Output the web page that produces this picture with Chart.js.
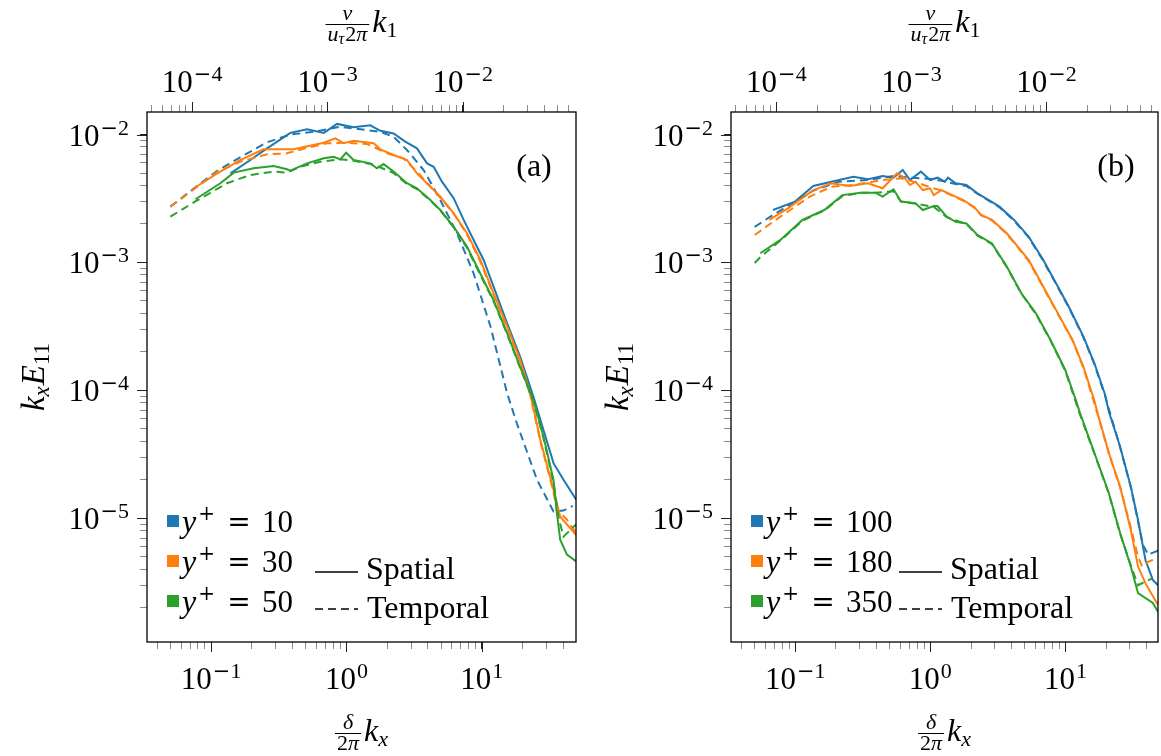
<!DOCTYPE html>
<html>
<head>
<meta charset="utf-8">
<script src="https://cdn.jsdelivr.net/npm/chart.js@4.4.1/dist/chart.umd.min.js"></script>
<style>
  html, body { margin: 0; padding: 0; background: #fff; }
  #wrap { position: relative; width: 1161px; height: 756px; overflow: hidden; }
  canvas { position: absolute; top: 0; }
  #ca { left: 0; }
  #cb { left: 590px; }
</style>
</head>
<body>
<div id="wrap">
  <canvas id="ca" width="580" height="756"></canvas>
  <canvas id="cb" width="571" height="756"></canvas>
</div>
<script>
const SERIF = '"Liberation Serif", "DejaVu Serif", serif';
const SYM = '"DejaVu Serif", serif';
const colors = ["#1f77b4", "#ff7f0e", "#2ca02c"];

// ---- panel (a): y+ = 10, 30, 50 ----
const labelsA = ["10", "30", "50"];
const spatial10 = [
  [0.139, 4.97e-3], [0.195, 6.32e-3], [0.259, 7.8e-3], [0.385, 1.03e-2], [0.512, 1.10e-2],
  [0.68, 1.03e-2], [0.853, 1.21e-2], [1.13, 1.14e-2], [1.5, 1.18e-2], [1.78, 1.07e-2],
  [2.23, 1.02e-2], [2.72, 8.8e-3], [3.32, 7.8e-3], [3.94, 5.95e-3], [4.41, 5.6e-3],
  [5.08, 4.28e-3], [6.2, 3.18e-3], [7.35, 2.15e-3], [8.71, 1.5e-3], [10.3, 1.05e-3],
  [12.2, 6.5e-4], [15.4, 3.35e-4], [19.2, 1.84e-4], [24.1, 8.9e-5], [27.1, 5.9e-5],
  [33.9, 2.7e-5], [40.2, 2.0e-5], [49.9, 1.4e-5],
];
const temporal10 = [
  [0.05, 2.73e-3], [0.0766, 3.87e-3], [0.111, 5.21e-3], [0.164, 6.64e-3], [0.259, 8.69e-3],
  [0.385, 1.0e-2], [0.573, 1.05e-2], [0.9, 1.15e-2], [1.27, 1.10e-2], [1.78, 1.05e-2],
  [2.23, 9.6e-3], [2.8, 7.57e-3], [3.72, 5.28e-3], [4.94, 3.08e-3], [6.56, 1.69e-3],
  [8.71, 8.2e-4], [11.6, 3.16e-4], [15.4, 9.5e-5], [18.2, 5.5e-5], [25.6, 2.0e-5],
  [33.9, 1.13e-5], [40, 1.15e-5], [47, 1.25e-5],
];
const spatial30 = [
  [0.0766, 3.87e-3], [0.111, 4.97e-3], [0.164, 6.32e-3], [0.244, 7.66e-3], [0.407, 7.66e-3],
  [0.68, 8.63e-3], [0.83, 9.34e-3], [0.953, 8.54e-3], [1.13, 8.95e-3], [1.59, 8.54e-3],
  [1.78, 7.66e-3], [2.23, 6.92e-3], [2.8, 6.32e-3], [3.32, 4.97e-3], [4.17, 3.91e-3],
  [4.94, 3.27e-3], [6.2, 2.42e-3], [7.78, 1.69e-3], [9.75, 1.05e-3], [12.2, 5.75e-4],
  [15.4, 3.16e-4], [19.2, 1.73e-4], [22.8, 9.5e-5], [27.1, 4.1e-5], [33.9, 1.67e-5],
  [38, 1.03e-5], [49.9, 7.4e-6],
];
const temporal30 = [
  [0.05, 2.73e-3], [0.0766, 3.8e-3], [0.111, 5.1e-3], [0.164, 6.13e-3], [0.259, 7.0e-3],
  [0.364, 7.13e-3], [0.512, 7.88e-3], [0.72, 8.54e-3], [1.0, 8.63e-3], [1.42, 8.43e-3],
  [2.0, 7.13e-3], [2.64, 6.52e-3], [3.32, 5.13e-3], [4.41, 3.68e-3], [6.2, 2.42e-3],
  [7.78, 1.65e-3], [9.75, 1.02e-3], [12.2, 5.6e-4], [15.4, 3.1e-4], [19.2, 1.7e-4],
  [22.8, 9.2e-5], [27.1, 4.0e-5], [33.9, 1.6e-5], [35.9, 1.16e-5], [42.6, 9.8e-6],
  [49.9, 7.6e-6],
];
const spatial50 = [
  [0.0766, 3.12e-3], [0.0934, 3.57e-3], [0.117, 4.16e-3], [0.147, 5.04e-3], [0.206, 5.45e-3],
  [0.29, 5.68e-3], [0.364, 5.35e-3], [0.385, 5.21e-3], [0.512, 5.95e-3], [0.68, 6.52e-3],
  [0.805, 6.71e-3], [0.9, 6.4e-3], [0.994, 7.2e-3], [1.13, 6.32e-3], [1.5, 5.95e-3],
  [1.68, 5.45e-3], [1.88, 5.88e-3], [2.23, 5.13e-3], [2.8, 4.16e-3], [3.32, 3.8e-3],
  [4.17, 3.08e-3], [4.94, 2.57e-3], [6.2, 1.9e-3], [7.78, 1.33e-3], [9.75, 8.2e-4],
  [12.2, 5.1e-4], [15.4, 2.8e-4], [19.2, 1.53e-4], [24.1, 8.4e-5], [28.6, 4.35e-5],
  [33.9, 2.0e-5], [35.9, 1.1e-5], [38, 6.8e-6], [42.6, 5.2e-6], [49.9, 4.6e-6],
];
const temporal50 = [
  [0.05, 2.28e-3], [0.0766, 3.0e-3], [0.131, 4.16e-3], [0.195, 4.83e-3], [0.29, 5.13e-3],
  [0.364, 5.04e-3], [0.457, 5.6e-3], [0.641, 6.13e-3], [0.9, 6.4e-3], [1.13, 6.24e-3],
  [1.6, 5.8e-3], [2.23, 5.0e-3], [2.8, 4.1e-3], [3.32, 3.75e-3], [4.17, 3.05e-3],
  [4.94, 2.55e-3], [6.2, 1.88e-3], [7.78, 1.3e-3], [9.75, 8.0e-4], [12.2, 5.0e-4],
  [15.4, 2.75e-4], [19.2, 1.5e-4], [24.1, 8.2e-5], [28.6, 4.2e-5], [33.9, 1.9e-5],
  [37, 1.0e-5], [40.2, 7.2e-6], [49.9, 9.0e-6],
];

// ---- panel (b): y+ = 100, 180, 350 ----
const labelsB = ["100", "180", "350"];
const spatial100 = [
  [0.0684, 2.57e-3], [0.0995, 2.99e-3], [0.136, 3.96e-3], [0.185, 4.28e-3], [0.269, 4.68e-3],
  [0.346, 4.47e-3], [0.443, 4.74e-3], [0.534, 4.6e-3], [0.624, 5.28e-3], [0.706, 4.41e-3],
  [0.851, 5.13e-3], [0.995, 4.41e-3], [1.13, 4.6e-3], [1.28, 4.28e-3], [1.35, 4.6e-3],
  [1.54, 4.16e-3], [1.85, 4.03e-3], [2.23, 3.47e-3], [2.69, 3.08e-3], [3.25, 2.73e-3],
  [4.17, 2.15e-3], [5.34, 1.59e-3], [6.85, 1.05e-3], [8.27, 7.3e-4], [10.6, 4.5e-4],
  [13.6, 2.63e-4], [16.4, 1.63e-4], [19.7, 9.2e-5], [21.0, 6.8e-5], [25.4, 3.64e-5],
  [30.5, 1.77e-5], [34.5, 9.7e-6], [39.2, 4.7e-6], [44.4, 3.3e-6], [48.5, 3.0e-6],
];
const temporal100 = [
  [0.05, 1.9e-3], [0.0684, 2.35e-3], [0.136, 3.64e-3], [0.21, 4.28e-3], [0.346, 4.41e-3],
  [0.534, 4.74e-3], [0.706, 4.6e-3], [0.995, 4.5e-3], [1.28, 4.3e-3], [1.54, 4.1e-3],
  [1.85, 3.95e-3], [2.23, 3.45e-3], [2.69, 3.05e-3], [3.25, 2.7e-3], [4.17, 2.12e-3],
  [5.34, 1.57e-3], [6.85, 1.03e-3], [8.27, 7.2e-4], [10.6, 4.45e-4], [13.6, 2.6e-4],
  [16.4, 1.6e-4], [19.7, 9.0e-5], [25.4, 3.6e-5], [30.5, 1.75e-5], [34.5, 9.5e-6],
  [37.5, 6.2e-6], [41, 5.2e-6], [48.5, 5.6e-6],
];
const spatial180 = [
  [0.0642, 2.15e-3], [0.088, 2.65e-3], [0.136, 3.68e-3], [0.185, 4.16e-3], [0.253, 3.96e-3],
  [0.346, 4.16e-3], [0.443, 3.8e-3], [0.567, 4.98e-3], [0.643, 4.6e-3], [0.706, 4.03e-3],
  [0.776, 4.28e-3], [0.879, 3.68e-3], [0.995, 3.8e-3], [1.06, 3.36e-3], [1.21, 3.68e-3],
  [1.45, 3.36e-3], [1.74, 3.08e-3], [2.1, 2.73e-3], [2.38, 2.35e-3], [2.86, 2.15e-3],
  [3.68, 1.69e-3], [4.44, 1.33e-3], [5.34, 1.05e-3], [6.85, 6.5e-4], [8.8, 4.0e-4],
  [11.3, 2.48e-4], [13.6, 1.53e-4], [16.4, 8.3e-5], [17.4, 6.5e-5], [21.0, 3.24e-5],
  [25.4, 1.77e-5], [30.5, 8.1e-6], [34.5, 4.2e-6], [39.2, 3.1e-6], [48.5, 2.1e-6],
];
const temporal180 = [
  [0.05, 1.64e-3], [0.0775, 2.28e-3], [0.128, 3.27e-3], [0.185, 3.91e-3], [0.269, 4.03e-3],
  [0.443, 4.41e-3], [0.605, 4.55e-3], [0.824, 4.16e-3], [0.995, 3.87e-3], [1.21, 3.65e-3],
  [1.45, 3.33e-3], [1.74, 3.05e-3], [2.1, 2.7e-3], [2.38, 2.33e-3], [2.86, 2.13e-3],
  [3.68, 1.67e-3], [4.44, 1.31e-3], [5.34, 1.03e-3], [6.85, 6.4e-4], [8.8, 3.95e-4],
  [11.3, 2.45e-4], [13.6, 1.5e-4], [17.4, 6.4e-5], [21.0, 3.2e-5], [25.4, 1.75e-5],
  [30.5, 8.5e-6], [34.5, 5.0e-6], [37, 4.2e-6], [41.5, 4.6e-6], [48.5, 4.9e-6],
];
const spatial350 = [
  [0.055, 1.18e-3], [0.0775, 1.5e-3], [0.113, 2.15e-3], [0.164, 2.57e-3], [0.223, 3.36e-3],
  [0.305, 3.51e-3], [0.391, 3.51e-3], [0.443, 3.27e-3], [0.501, 3.57e-3], [0.534, 3.73e-3],
  [0.605, 2.99e-3], [0.776, 2.9e-3], [0.879, 2.57e-3], [1.06, 2.76e-3], [1.13, 2.76e-3],
  [1.32, 2.28e-3], [1.54, 2.08e-3], [1.85, 2.02e-3], [2.23, 1.64e-3], [2.86, 1.41e-3],
  [3.68, 9.3e-4], [4.72, 5.75e-4], [6.05, 4.0e-4], [7.76, 2.48e-4], [9.96, 1.45e-4],
  [12.0, 8.3e-5], [12.8, 6.7e-5], [16.4, 3.24e-5], [21.0, 1.57e-5], [25.4, 7.7e-6],
  [30.5, 4.2e-6], [34.5, 2.6e-6], [44.4, 2.18e-6], [48.5, 1.86e-6],
];
const temporal350 = [
  [0.05, 9.9e-4], [0.055, 1.1e-3], [0.0775, 1.48e-3], [0.113, 2.12e-3], [0.164, 2.55e-3],
  [0.223, 3.3e-3], [0.305, 3.5e-3], [0.391, 3.5e-3], [0.534, 3.6e-3], [0.605, 3.0e-3],
  [0.776, 2.88e-3], [1.06, 2.72e-3], [1.32, 2.26e-3], [1.85, 2.0e-3], [2.23, 1.62e-3],
  [2.86, 1.39e-3], [3.68, 9.2e-4], [4.72, 5.7e-4], [6.05, 3.95e-4], [7.76, 2.45e-4],
  [9.96, 1.43e-4], [12.8, 6.5e-5], [16.4, 3.2e-5], [21.0, 1.55e-5], [25.4, 7.6e-6],
  [30.5, 4.3e-6], [34.5, 3.0e-6], [39, 3.2e-6], [44, 3.4e-6],
];

// ---- axes ----
const bottomTickLabels = [0.1, 1, 10];
const topTickLabels = [1e-4, 1e-3, 1e-2];
const leftTickLabels = [1e-2, 1e-3, 1e-4, 1e-5];
const yRange = [1.08e-6, 1.5e-2];
const xRangeA = [0.0336, 49.7];
const xRangeB = [0.0334, 48.5];
const topFactor = Math.pow(10, -2.86); // top axis value = bottom value * topFactor

function logTicks(min, max) {
  const out = [];
  for (let e = Math.floor(Math.log10(min)); e <= Math.ceil(Math.log10(max)); e++) {
    for (let m = 1; m <= 9; m++) {
      const v = m * Math.pow(10, e);
      if (v >= min * 0.9999 && v <= max * 1.0001) out.push({ value: v, major: m === 1 });
    }
  }
  return out;
}

function font(s, it, fam) {
  return (it ? "italic " : "") + s + "px " + (fam || SERIF);
}
function partsWidth(ctx, parts) {
  let w = 0;
  for (const p of parts) { ctx.font = font(p.s, p.i, p.f); w += ctx.measureText(p.t).width + (p.gap || 0); }
  return w;
}
function drawParts(ctx, x, y, parts) {
  let cx = x;
  for (const p of parts) {
    ctx.font = font(p.s, p.i, p.f);
    ctx.fillText(p.t, cx, y + (p.dy || 0));
    cx += ctx.measureText(p.t).width + (p.gap || 0);
  }
}
function powParts(v) {
  const e = Math.round(Math.log10(v));
  const parts = [{ t: "10", s: 31, gap: 1 }];
  if (e < 0) parts.push({ t: "\u2212", s: 21, f: SYM, dy: -11 });
  parts.push({ t: String(Math.abs(e)), s: 22, dy: -11 });
  return parts;
}
function drawTitle(ctx, cx, barY, num, den, rest) {
  const nw = partsWidth(ctx, num), dw = partsWidth(ctx, den);
  const fw = Math.max(nw, dw) + 4;
  const total = fw + 3 + partsWidth(ctx, rest);
  const x0 = cx - total / 2;
  ctx.lineWidth = 1;
  ctx.beginPath();
  ctx.moveTo(x0, barY + 0.5);
  ctx.lineTo(x0 + fw, barY + 0.5);
  ctx.stroke();
  drawParts(ctx, x0 + (fw - nw) / 2, barY - 4, num);
  drawParts(ctx, x0 + (fw - dw) / 2, barY + 17, den);
  drawParts(ctx, x0 + fw + 3, barY + 8, rest);
}

const decor = {
  id: "decor",
  afterDraw(chart, args, o) {
    const ctx = chart.ctx, a = chart.chartArea;
    const sx = chart.scales.x, sx2 = chart.scales.x2, sy = chart.scales.y;
    ctx.save();
    ctx.fillStyle = "#000";
    ctx.strokeStyle = "#222";
    ctx.lineWidth = 1;

    // longer major ticks
    ctx.beginPath();
    sx.ticks.filter(t => t.major).forEach(t => {
      const p = Math.round(sx.getPixelForValue(t.value)) + 0.5;
      ctx.moveTo(p, a.bottom); ctx.lineTo(p, a.bottom + 10);
    });
    sx2.ticks.filter(t => t.major).forEach(t => {
      const p = Math.round(sx2.getPixelForValue(t.value)) + 0.5;
      ctx.moveTo(p, a.top); ctx.lineTo(p, a.top - 10);
    });
    sy.ticks.filter(t => t.major).forEach(t => {
      const p = Math.round(sy.getPixelForValue(t.value)) + 0.5;
      ctx.moveTo(a.left, p); ctx.lineTo(a.left - 10, p);
    });
    ctx.stroke();

    // frame
    ctx.strokeStyle = "#000";
    ctx.lineWidth = 1.3;
    ctx.strokeRect(a.left, a.top, a.right - a.left, a.bottom - a.top);

    // tick labels
    bottomTickLabels.forEach(v => {
      const parts = powParts(v), w = partsWidth(ctx, parts);
      drawParts(ctx, sx.getPixelForValue(v) - w / 2, a.bottom + 47, parts);
    });
    topTickLabels.forEach(v => {
      const parts = powParts(v), w = partsWidth(ctx, parts);
      drawParts(ctx, sx2.getPixelForValue(v) - w / 2, a.top - 20, parts);
    });
    leftTickLabels.forEach(v => {
      const parts = powParts(v), w = partsWidth(ctx, parts);
      drawParts(ctx, a.left - 18 - w, sy.getPixelForValue(v) + 11, parts);
    });

    // axis titles
    const cx = (a.left + a.right) / 2;
    ctx.lineWidth = 1;
    drawTitle(ctx, cx, a.bottom + 91,
      [{ t: "\u03b4", s: 22, i: true }],
      [{ t: "2", s: 22 }, { t: "\u03c0", s: 22, i: true }],
      [{ t: "k", s: 32, i: true }, { t: "x", s: 22, i: true, dy: 5 }]);
    drawTitle(ctx, cx, a.top - 88,
      [{ t: "\u03bd", s: 22, i: true }],
      [{ t: "u", s: 22, i: true }, { t: "\u03c4", s: 16, i: true, dy: 3, gap: 1 }, { t: "2", s: 22 }, { t: "\u03c0", s: 22, i: true }],
      [{ t: "k", s: 32, i: true }, { t: "1", s: 22, dy: 5 }]);
    const yt = [{ t: "k", s: 33, i: true }, { t: "x", s: 23, i: true, dy: 5, gap: 1 },
                { t: "E", s: 33, i: true }, { t: "11", s: 23, dy: 5 }];
    ctx.save();
    ctx.translate(a.left - 103, (a.top + a.bottom) / 2);
    ctx.rotate(-Math.PI / 2);
    drawParts(ctx, -partsWidth(ctx, yt) / 2, 0, yt);
    ctx.restore();

    // panel tag
    ctx.font = font(32);
    ctx.textAlign = "center";
    ctx.fillText(o.tag, a.right - 42, a.top + 64);
    ctx.textAlign = "left";

    // legend: colour boxes
    o.labels.forEach((lab, i) => {
      const rowY = a.bottom - 121 + 40 * i;
      ctx.fillStyle = colors[i];
      ctx.fillRect(a.left + 20, rowY - 6, 12, 12);
      ctx.fillStyle = "#000";
      drawParts(ctx, a.left + 35, rowY + 11, [{ t: "y", s: 32, i: true, gap: 2 }, { t: "+", s: 20, f: SYM, dy: -12 }]);
      ctx.font = font(28, false, SYM);
      ctx.textAlign = "center";
      ctx.fillText("=", a.left + 92, rowY + 10);
      ctx.textAlign = "left";
      ctx.font = font(31);
      ctx.fillText(lab, a.left + 115, rowY + 11);
    });
    // legend: line styles
    ctx.strokeStyle = "#000";
    ctx.lineWidth = 1.3;
    ctx.beginPath();
    ctx.moveTo(a.left + 168, a.bottom - 70);
    ctx.lineTo(a.left + 211, a.bottom - 70);
    ctx.stroke();
    ctx.setLineDash([8, 5]);
    ctx.beginPath();
    ctx.moveTo(a.left + 168, a.bottom - 33);
    ctx.lineTo(a.left + 211, a.bottom - 33);
    ctx.stroke();
    ctx.setLineDash([]);
    ctx.font = font(32);
    ctx.fillText("Spatial", a.left + 219, a.bottom - 63);
    ctx.fillText("Temporal", a.left + 220, a.bottom - 24);
    ctx.restore();
  },
};

function buildSets(spatial, temporal) {
  const out = [];
  for (let i = 0; i < 3; i++) {
    out.push({
      data: spatial[i].map(p => ({ x: p[0], y: p[1] })),
      borderColor: colors[i], borderWidth: 2, pointRadius: 0, tension: 0, fill: false, order: 3 - i,
    });
    out.push({
      data: temporal[i].map(p => ({ x: p[0], y: p[1] })),
      borderColor: colors[i], borderWidth: 2, borderDash: [8, 5], pointRadius: 0, tension: 0, fill: false, order: 3 - i,
    });
  }
  return out;
}

function axis(position, min, max, fit) {
  return {
    type: "logarithmic",
    position,
    min,
    max,
    afterBuildTicks: (s) => { s.ticks = logTicks(min, max); },
    afterFit: fit,
    ticks: { display: false },
    grid: {
      drawOnChartArea: false,
      drawTicks: true,
      tickLength: 7,
      tickWidth: 1,
      tickColor: (c) => (c.tick && c.tick.major ? "#222" : "#8a8a8a"),
    },
    border: { display: false },
  };
}

function makeChart(id, p) {
  return new Chart(document.getElementById(id), {
    type: "line",
    data: { datasets: buildSets(p.spatial, p.temporal) },
    options: {
      responsive: false,
      animation: false,
      devicePixelRatio: 1,
      layout: { padding: { left: 0, right: p.padRight, top: 0, bottom: 0 } },
      plugins: {
        legend: { display: false },
        tooltip: { enabled: false },
        decor: { tag: p.tag, labels: p.labels },
      },
      scales: {
        x: axis("bottom", p.xRange[0], p.xRange[1], (s) => { s.height = 114; }),
        x2: axis("top", p.xRange[0] * topFactor, p.xRange[1] * topFactor, (s) => { s.height = 112; }),
        y: axis("left", yRange[0], yRange[1], (s) => { s.width = p.yWidth; }),
      },
    },
    plugins: [decor],
  });
}

makeChart("ca", {
  tag: "(a)", labels: labelsA, xRange: xRangeA, yWidth: 147, padRight: 4,
  spatial: [spatial10, spatial30, spatial50],
  temporal: [temporal10, temporal30, temporal50],
});
makeChart("cb", {
  tag: "(b)", labels: labelsB, xRange: xRangeB, yWidth: 141, padRight: 3,
  spatial: [spatial100, spatial180, spatial350],
  temporal: [temporal100, temporal180, temporal350],
});
</script>
</body>
</html>
